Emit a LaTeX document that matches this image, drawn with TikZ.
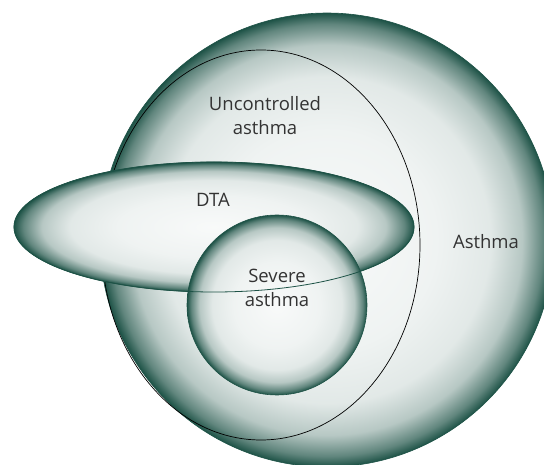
\documentclass[tikz,border=0pt]{standalone}
\usepackage{fontspec}
\setmainfont{Open Sans}
\definecolor{rimteal}{HTML}{1D5246}
\definecolor{labelgray}{HTML}{333333}
\pgfdeclareradialshading{bubble}{\pgfpoint{0bp}{0bp}}{%
  color(0bp)=(rimteal!3!white);
  color(12bp)=(rimteal!7!white);
  color(18bp)=(rimteal!13!white);
  color(21.5bp)=(rimteal!32!white);
  color(23.8bp)=(rimteal!70!white);
  color(25bp)=(rimteal);
  color(50bp)=(rimteal)}
\tikzset{
  bubble/.style={shading=bubble, draw=rimteal, line width=0.6pt},
  tag/.style={text=labelgray, font=\fontsize{18.5}{24}\selectfont, align=center, inner sep=0pt}
}

\begin{document}
\begin{tikzpicture}[x=1pt, y=-1pt]
\useasboundingbox (0,0) rectangle (544,465);
\clip (0,0) rectangle (544,465);
% all asthma
\shadedraw[bubble] (327,240) circle[radius=227pt];
% uncontrolled (outline only)
\draw[black, line width=0.7pt] (261,245) ellipse[x radius=159pt, y radius=195pt];
% DTA, then severe on top of it
\shadedraw[bubble] (214,227) ellipse[x radius=200pt, y radius=65pt];
\shadedraw[bubble] (277,305) circle[radius=90pt];
% DTA edge stays visible through severe
\draw[rimteal, line width=0.8pt] (214,227) ellipse[x radius=200pt, y radius=65pt];
% labels
\node[tag] (uncontrolled) at (265,116) {Uncontrolled\\asthma};
\node[tag] (dta) at (213,200) {DTA};
\node[tag] (severe) at (277,288) {Severe\\asthma};
\node[tag] (asthma) at (486,242) {Asthma};
\end{tikzpicture}
\end{document}
